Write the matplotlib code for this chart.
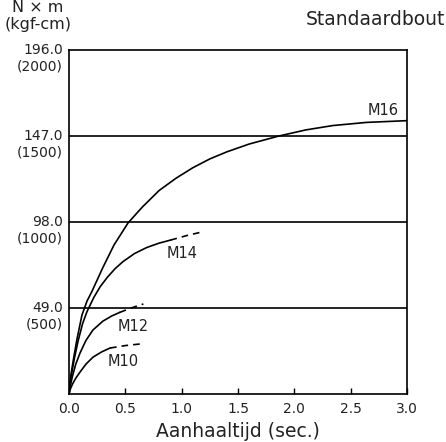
import matplotlib
matplotlib.use('Agg')
import matplotlib.pyplot as plt
import matplotlib.transforms as mtransforms

# tightening torque curves (sec., N*m)
m16_x = [0, 0.01, 0.02, 0.04, 0.07, 0.115, 0.16, 0.2, 0.3, 0.4, 0.524, 0.65, 0.8, 0.95, 1.1, 1.25,
         1.4, 1.6, 1.86, 2.1, 2.34, 2.64, 3.0]
m16_y = [0, 7, 12, 20, 31, 45, 53, 58, 72, 85, 97.5, 106.5, 116, 123, 129, 134,
         138, 142.5, 147, 150.5, 153, 154.8, 155.8]

m14_x = [0, 0.01, 0.03, 0.05, 0.08, 0.12, 0.16, 0.22, 0.275, 0.34, 0.41, 0.48, 0.58, 0.69, 0.8, 0.9]
m14_y = [0, 7, 14, 21, 30, 40, 47, 55, 61, 66.5, 71.5, 75.5, 80, 83.5, 86, 87.7]
m14_dash_x = [0.9, 1.05, 1.19]
m14_dash_y = [87.7, 90.4, 92.5]

m12_x = [0, 0.01, 0.03, 0.06, 0.098, 0.15, 0.213, 0.3, 0.38, 0.45]
m12_y = [0, 4, 10, 17, 23.4, 30.5, 36.5, 41.5, 44.5, 46.5]
m12_dash_x = [0.45, 0.55, 0.66]
m12_dash_y = [46.5, 49, 51.3]

m10_x = [0, 0.01, 0.03, 0.06, 0.098, 0.15, 0.213, 0.29, 0.364]
m10_y = [0, 2.5, 5.5, 9, 12.5, 17, 21, 24, 26.2]
m10_dash_x = [0.364, 0.5, 0.63]
m10_dash_y = [26.2, 27.6, 28.5]

y_ticks = [49.0, 98.0, 147.0, 196.0]
y_kgf = ['(500)', '(1000)', '(1500)', '(2000)']
x_ticks = [0.0, 0.5, 1.0, 1.5, 2.0, 2.5, 3.0]

labels = ['M16', 'M14', 'M12', 'M10']
label_pos = [(2.79, 161.8), (1.0, 80.3), (0.57, 38.7), (0.48, 18.8)]

txt = '#222222'
fig = plt.figure(figsize=(4.46, 4.42), dpi=100)
ax = fig.add_axes([0.1547, 0.1086, 0.758, 0.778])

lw = 1.2
ax.plot(m16_x, m16_y, color='black', lw=lw)
ax.plot(m14_x, m14_y, color='black', lw=lw)
ax.plot(m12_x, m12_y, color='black', lw=lw)
ax.plot(m10_x, m10_y, color='black', lw=lw)
for dx, dy in [(m14_dash_x, m14_dash_y), (m12_dash_x, m12_dash_y), (m10_dash_x, m10_dash_y)]:
    ax.plot(dx, dy, color='black', lw=lw, dashes=(4, 3))

for v in y_ticks[:-1]:
    ax.axhline(v, color='black', lw=1.2)

for lab, (lx, ly) in zip(labels, label_pos):
    ax.text(lx, ly, lab, ha='center', va='center', fontsize=10.5, color=txt)

ax.set_xlim(0, 3.0)
ax.set_ylim(0, 196)
ax.set_xticks(x_ticks)
ax.set_xticklabels(['%.1f' % t for t in x_ticks], fontsize=10, color=txt)
ax.tick_params(axis='x', direction='in', length=4, width=1, pad=6)
ax.set_yticks([])
for s in ax.spines.values():
    s.set_linewidth(1.2)

# two line y labels: N*m on the line, kgf-cm below it
trans = mtransforms.blended_transform_factory(ax.transAxes, ax.transData)
for v, k in zip(y_ticks, y_kgf):
    ax.annotate('%.1f' % v, xy=(0, v), xycoords=trans, xytext=(-6, 0),
                textcoords='offset pixels', ha='right', va='center', fontsize=10, color=txt)
    ax.annotate(k, xy=(0, v), xycoords=trans, xytext=(-6, -16),
                textcoords='offset pixels', ha='right', va='center', fontsize=10, color=txt)

ax.set_xlabel('Aanhaaltijd (sec.)', fontsize=13.5, color=txt, labelpad=4)
fig.text(0.085, 0.984, 'N × m', ha='center', va='center', fontsize=11.5, color=txt)
fig.text(0.085, 0.945, '(kgf-cm)', ha='center', va='center', fontsize=11.5, color=txt)
fig.text(0.997, 0.957, 'Standaardbout', ha='right', va='center', fontsize=13.5, color=txt)

fig.savefig('out.png', dpi=100)
